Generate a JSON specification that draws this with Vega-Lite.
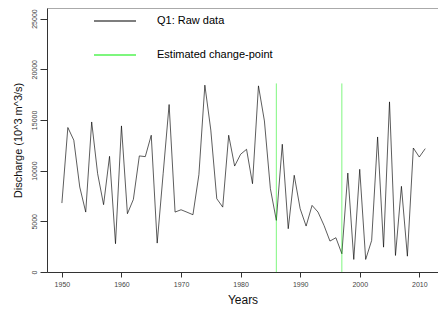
{
  "$schema": "https://vega.github.io/schema/vega-lite/v6.json",
  "width": 391,
  "height": 264,
  "autosize": {"type": "none"},
  "padding": {"left": 47, "top": 8, "right": 0, "bottom": 40},
  "background": "white",
  "config": {
    "font": "Liberation Sans",
    "view": {"stroke": "#aaaaaa", "strokeWidth": 1},
    "legend": {"rowPadding": 7, "direction": "vertical", "columns": 1}
  },
  "layer": [
    {
      "data": {
        "values": [
          {"year": 1950, "discharge": 6800, "series": "Q1: Raw data"},
          {"year": 1951, "discharge": 14250, "series": "Q1: Raw data"},
          {"year": 1952, "discharge": 13000, "series": "Q1: Raw data"},
          {"year": 1953, "discharge": 8380, "series": "Q1: Raw data"},
          {"year": 1954, "discharge": 5910, "series": "Q1: Raw data"},
          {"year": 1955, "discharge": 14800, "series": "Q1: Raw data"},
          {"year": 1956, "discharge": 9700, "series": "Q1: Raw data"},
          {"year": 1957, "discharge": 6640, "series": "Q1: Raw data"},
          {"year": 1958, "discharge": 11410, "series": "Q1: Raw data"},
          {"year": 1959, "discharge": 2790, "series": "Q1: Raw data"},
          {"year": 1960, "discharge": 14410, "series": "Q1: Raw data"},
          {"year": 1961, "discharge": 5750, "series": "Q1: Raw data"},
          {"year": 1962, "discharge": 7160, "series": "Q1: Raw data"},
          {"year": 1963, "discharge": 11450, "series": "Q1: Raw data"},
          {"year": 1964, "discharge": 11380, "series": "Q1: Raw data"},
          {"year": 1965, "discharge": 13490, "series": "Q1: Raw data"},
          {"year": 1966, "discharge": 2850, "series": "Q1: Raw data"},
          {"year": 1967, "discharge": 9700, "series": "Q1: Raw data"},
          {"year": 1968, "discharge": 16520, "series": "Q1: Raw data"},
          {"year": 1969, "discharge": 5910, "series": "Q1: Raw data"},
          {"year": 1970, "discharge": 6140, "series": "Q1: Raw data"},
          {"year": 1971, "discharge": 5900, "series": "Q1: Raw data"},
          {"year": 1972, "discharge": 5650, "series": "Q1: Raw data"},
          {"year": 1973, "discharge": 9600, "series": "Q1: Raw data"},
          {"year": 1974, "discharge": 18430, "series": "Q1: Raw data"},
          {"year": 1975, "discharge": 14000, "series": "Q1: Raw data"},
          {"year": 1976, "discharge": 7230, "series": "Q1: Raw data"},
          {"year": 1977, "discharge": 6400, "series": "Q1: Raw data"},
          {"year": 1978, "discharge": 13490, "series": "Q1: Raw data"},
          {"year": 1979, "discharge": 10450, "series": "Q1: Raw data"},
          {"year": 1980, "discharge": 11610, "series": "Q1: Raw data"},
          {"year": 1981, "discharge": 12100, "series": "Q1: Raw data"},
          {"year": 1982, "discharge": 8710, "series": "Q1: Raw data"},
          {"year": 1983, "discharge": 18360, "series": "Q1: Raw data"},
          {"year": 1984, "discharge": 14900, "series": "Q1: Raw data"},
          {"year": 1985, "discharge": 8220, "series": "Q1: Raw data"},
          {"year": 1986, "discharge": 5090, "series": "Q1: Raw data"},
          {"year": 1987, "discharge": 12600, "series": "Q1: Raw data"},
          {"year": 1988, "discharge": 4270, "series": "Q1: Raw data"},
          {"year": 1989, "discharge": 9540, "series": "Q1: Raw data"},
          {"year": 1990, "discharge": 6240, "series": "Q1: Raw data"},
          {"year": 1991, "discharge": 4530, "series": "Q1: Raw data"},
          {"year": 1992, "discharge": 6570, "series": "Q1: Raw data"},
          {"year": 1993, "discharge": 5910, "series": "Q1: Raw data"},
          {"year": 1994, "discharge": 4600, "series": "Q1: Raw data"},
          {"year": 1995, "discharge": 3050, "series": "Q1: Raw data"},
          {"year": 1996, "discharge": 3380, "series": "Q1: Raw data"},
          {"year": 1997, "discharge": 1800, "series": "Q1: Raw data"},
          {"year": 1998, "discharge": 9760, "series": "Q1: Raw data"},
          {"year": 1999, "discharge": 1240, "series": "Q1: Raw data"},
          {"year": 2000, "discharge": 10130, "series": "Q1: Raw data"},
          {"year": 2001, "discharge": 1240, "series": "Q1: Raw data"},
          {"year": 2002, "discharge": 3110, "series": "Q1: Raw data"},
          {"year": 2003, "discharge": 13320, "series": "Q1: Raw data"},
          {"year": 2004, "discharge": 2450, "series": "Q1: Raw data"},
          {"year": 2005, "discharge": 16780, "series": "Q1: Raw data"},
          {"year": 2006, "discharge": 1630, "series": "Q1: Raw data"},
          {"year": 2007, "discharge": 8450, "series": "Q1: Raw data"},
          {"year": 2008, "discharge": 1560, "series": "Q1: Raw data"},
          {"year": 2009, "discharge": 12230, "series": "Q1: Raw data"},
          {"year": 2010, "discharge": 11340, "series": "Q1: Raw data"},
          {"year": 2011, "discharge": 12170, "series": "Q1: Raw data"}
        ]
      },
      "mark": {"type": "line", "strokeWidth": 0.8, "opacity": 0.8},
      "encoding": {
        "x": {
          "field": "year", "type": "quantitative",
          "scale": {"domain": [1947.5, 2013.14], "nice": false, "zero": false},
          "axis": {
            "values": [1950, 1960, 1970, 1980, 1990, 2000, 2010],
            "format": "d", "grid": false, "title": "Years",
            "labelFontSize": 7, "labelColor": "#444444", "labelPadding": 3,
            "tickSize": 5, "tickColor": "#333333", "domainColor": "#333333",
            "titleFontSize": 12, "titleFontWeight": "normal", "titleColor": "#111111",
            "titlePadding": 7
          }
        },
        "y": {
          "field": "discharge", "type": "quantitative",
          "scale": {"domain": [0, 26040], "nice": false},
          "axis": {
            "values": [0, 5000, 10000, 15000, 20000, 25000],
            "format": "d", "grid": false, "title": "Discharge (10^3 m^3/s)",
            "labelAngle": 270, "labelFontSize": 7, "labelColor": "#444444", "labelPadding": 3,
            "tickSize": 7, "tickColor": "#333333", "domainColor": "#333333",
            "titleFontSize": 11, "titleFontWeight": "normal", "titleColor": "#111111",
            "titlePadding": 7
          }
        },
        "color": {
          "field": "series", "type": "nominal",
          "scale": {"domain": ["Q1: Raw data", "Estimated change-point"], "range": ["#000000", "#00ee00"]},
          "legend": {
            "title": null, "orient": "none", "legendX": 46, "legendY": -9,
            "padding": 0, "symbolType": "stroke", "symbolSize": 1764,
            "symbolStrokeWidth": 2, "symbolOpacity": 1, "labelFontSize": 11,
            "labelOffset": 20, "labelColor": "#000000"
          }
        }
      }
    },
    {
      "data": {
        "values": [
          {"year": 1986, "base": 0, "top": 18600, "series": "Estimated change-point"},
          {"year": 1997, "base": 0, "top": 18600, "series": "Estimated change-point"}
        ]
      },
      "mark": {"type": "rule", "strokeWidth": 1, "opacity": 0.5},
      "encoding": {
        "x": {"field": "year", "type": "quantitative"},
        "y": {"field": "base", "type": "quantitative"},
        "y2": {"field": "top"},
        "color": {"field": "series", "type": "nominal"}
      }
    }
  ]
}
